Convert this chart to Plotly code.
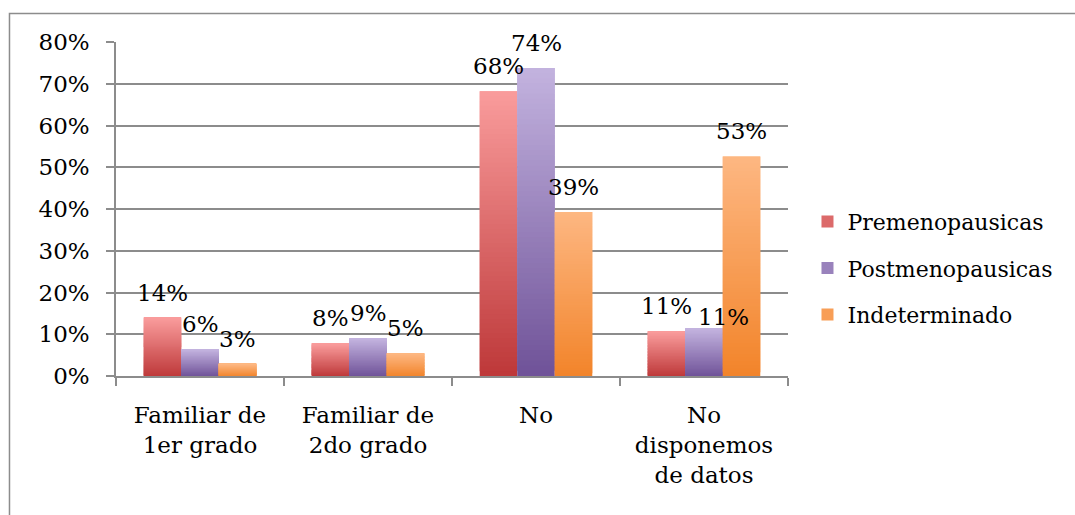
import plotly.graph_objects as go

# Chart data
categories = ["Familiar de<br>1er grado", "Familiar de<br>2do grado", "No", "No<br>disponemos<br>de datos"]
series_names = ["Premenopausicas", "Postmenopausicas", "Indeterminado"]
premenopausicas = [0.139, 0.078, 0.682, 0.107]
postmenopausicas = [0.064, 0.090, 0.738, 0.114]
indeterminado = [0.029, 0.054, 0.393, 0.526]
y_ticks = [0.0, 0.1, 0.2, 0.3, 0.4, 0.5, 0.6, 0.7, 0.8]

series_values = [premenopausicas, postmenopausicas, indeterminado]
# (top colour, bottom colour) for each series' vertical gradient
gradients = [
    ((249, 156, 156), (190, 56, 57)),
    ((195, 179, 223), (111, 82, 152)),
    ((253, 183, 130), (242, 132, 42)),
]

FONT = "DejaVu Serif"
FS = 23
GRID = "#8c8c8c"
N_STEPS = 60
BARGAP = 0.33


def mix(c_top, c_bot, t):
    # t = 0 at bar bottom, 1 at bar top
    r, g, b = (round(cb + (ct - cb) * t) for ct, cb in zip(c_top, c_bot))
    return f"rgb({r},{g},{b})"


fig = go.Figure()

for name, values, (c_top, c_bot) in zip(series_names, series_values, gradients):
    # each bar is built from stacked slices so its fill fades from dark to light;
    # every slice but the last reaches into the next one to hide pixel seams
    for k in range(N_STEPS):
        t = (k + 0.5) / N_STEPS
        reach = 2 if k < N_STEPS - 1 else 1
        fig.add_trace(go.Bar(
            x=categories,
            y=[v / N_STEPS * reach for v in values],
            base=[v * k / N_STEPS for v in values],
            offsetgroup=name,
            legendgroup=name,
            showlegend=False,
            marker=dict(color=mix(c_top, c_bot, t), line=dict(width=0)),
            hoverinfo="skip",
        ))
    # legend entry for the series
    fig.add_trace(go.Bar(
        x=categories,
        y=[None] * len(categories),
        offsetgroup=name,
        legendgroup=name,
        name=name,
        showlegend=True,
        marker=dict(color=mix(c_top, c_bot, 0.5), line=dict(width=0)),
    ))

# value labels above each bar (one label nudged aside to clear its neighbour)
label_nudge = {(1, 3): (19, -4)}
n_series = len(series_names)
bar_w = (1 - BARGAP) / n_series
for s, values in enumerate(series_values):
    offset = (s - (n_series - 1) / 2) * bar_w
    for i, v in enumerate(values):
        dx, dy = label_nudge.get((s, i), (0, 10))
        fig.add_annotation(
            x=i + offset, y=v, xref="x", yref="y",
            text=f"{v * 100:.0f}%", showarrow=False,
            yanchor="bottom", xshift=dx, yshift=dy,
            font=dict(family=FONT, size=FS, color="#000000"),
        )

# outer chart border (continues past the right and bottom edges)
fig.add_shape(
    type="rect", xref="paper", yref="paper",
    x0=-0.1585, x1=1.6, y0=-0.6, y1=1.0853,
    line=dict(color="#8c8c8c", width=1.5), fillcolor="rgba(0,0,0,0)",
    layer="below",
)

fig.update_layout(
    width=1075, height=515,
    margin=dict(l=116, r=287, t=42, b=139),
    paper_bgcolor="white", plot_bgcolor="white",
    barmode="group", bargap=BARGAP, bargroupgap=0,
    font=dict(family=FONT, size=FS, color="#000000"),
    showlegend=True,
    legend=dict(
        x=1.029, xanchor="left", y=0.323, yanchor="middle",
        font=dict(family=FONT, size=22, color="#000000"),
        tracegroupgap=15, traceorder="grouped",
        bgcolor="rgba(0,0,0,0)",
    ),
    xaxis=dict(
        type="category",
        showline=True, linecolor=GRID, linewidth=1.5,
        ticks="outside", ticklen=8, tickcolor=GRID, tickwidth=1.5,
        tickson="boundaries",
        showgrid=False,
        ticklabelstandoff=18,
        tickfont=dict(family=FONT, size=FS),
    ),
    yaxis=dict(
        range=[0, 0.8],
        tickvals=y_ticks, tickformat=".0%",
        showgrid=True, gridcolor=GRID, gridwidth=1.5,
        showline=True, linecolor=GRID, linewidth=1.5,
        ticks="outside", ticklen=8, tickcolor=GRID, tickwidth=1.5,
        ticklabelstandoff=12,
        zeroline=False,
        tickfont=dict(family=FONT, size=FS),
    ),
)

fig.write_html("out.html")
